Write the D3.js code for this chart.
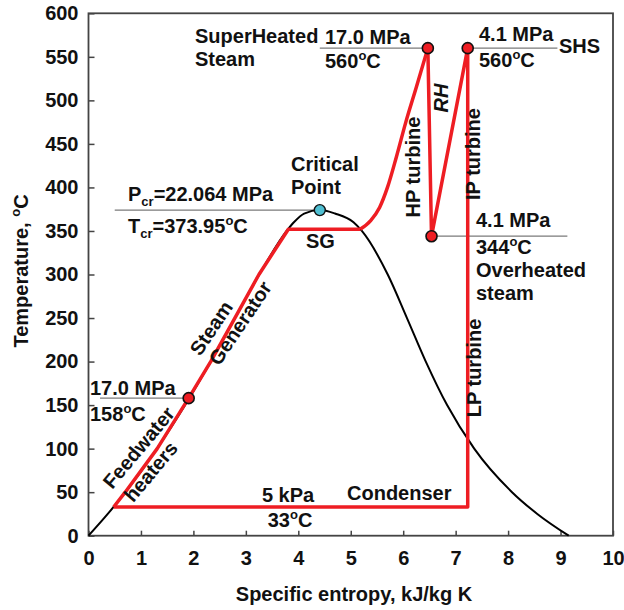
<!DOCTYPE html>
<html>
<head>
<meta charset="utf-8">
<script src="https://cdn.jsdelivr.net/npm/d3@7"></script>
<style>
  body { margin: 0; background: #fff; }
  svg text { font-family: "Liberation Sans", Arial, sans-serif; font-weight: bold; fill: #111; }
</style>
</head>
<body>
<svg id="chart" width="624" height="610"></svg>
<script>
"use strict";

// saturation dome (liquid line up to the critical point, then vapour line)
var domeS = [0, 0.367, 0.704, 1.307, 1.842, 2.331, 2.793, 3.255, 3.778, 3.916, 4.111, 4.41, 4.699, 5.053, 5.212, 5.705, 6.072, 6.431, 6.837, 7.354, 8.075, 8.557, 9.155];
var domeT = [0, 25, 50, 100, 150, 200, 250, 300, 350, 360, 370, 373.95, 370, 360, 350, 300, 250, 200, 150, 100, 50, 25, 0];

// cycle: feedwater heaters + steam generator
var heatS = [0.48, 0.70, 1.31, 1.91, 2.33, 2.79, 3.25, 3.81, 5.18];
var heatT = [33, 50, 100, 158, 200, 250, 300, 352, 352];
// superheating to 560 C
var superS = [5.18, 5.38, 5.55, 5.70, 5.87, 6.05, 6.25, 6.47];
var superT = [352, 362, 377, 400, 435, 475, 515, 560];
// HP turbine, reheat, IP/LP turbine, condenser
var turbS = [6.47, 6.54, 7.23, 7.23, 0.48];
var turbT = [560, 344, 560, 33, 33];

// state points
var stateS = [6.47, 7.23, 6.54, 1.91];
var stateT = [560, 560, 344, 158];
var critS = 4.41, critT = 373.95;

// thin reference lines: from s, to s, at T
var refFrom = [4.41, 7.23, 0.50, 6.54, 0.22];
var refTo = [6.47, 8.94, 4.41, 9.13, 1.91];
var refT = [560, 560, 373.95, 344, 158];

var xTicks = [0, 1, 2, 3, 4, 5, 6, 7, 8, 9, 10];
var yTicks = [0, 50, 100, 150, 200, 250, 300, 350, 400, 450, 500, 550, 600];

var svg = d3.select("#chart");
var plotL = 88.5, plotR = 613, plotT = 13.3, plotB = 535.7;

var x = d3.scaleLinear().domain([0, 10]).range([plotL, plotR]);
var y = d3.scaleLinear().domain([0, 600]).range([plotB, plotT]);

var red = "#ee1d23";

// axes (inward ticks)
var gx = svg.append("g").attr("transform", "translate(0," + plotB + ")")
  .call(d3.axisBottom(x).tickValues(xTicks).tickSize(-5).tickPadding(15).tickFormat(d3.format("d")));
var gy = svg.append("g").attr("transform", "translate(" + plotL + ",0)")
  .call(d3.axisLeft(y).tickValues(yTicks).tickSize(-6).tickPadding(10).tickFormat(d3.format("d")));
[gx, gy].forEach(function (g) {
  g.select(".domain").remove();
  g.selectAll(".tick line").attr("stroke", "#444").attr("stroke-width", 1.5);
  g.selectAll(".tick text").attr("font-size", 20).attr("fill", "#111")
    .attr("font-family", "Liberation Sans, Arial, sans-serif").attr("font-weight", "bold");
});

svg.append("rect")
  .attr("x", plotL).attr("y", plotT)
  .attr("width", plotR - plotL).attr("height", plotB - plotT)
  .attr("fill", "none").attr("stroke", "#444").attr("stroke-width", 1.8);

// reference lines
refT.forEach(function (t, i) {
  svg.append("line")
    .attr("x1", x(refFrom[i])).attr("x2", x(refTo[i]))
    .attr("y1", y(t)).attr("y2", y(t))
    .attr("stroke", "#7a7a7a").attr("stroke-width", 1.3);
});

// dome
var line = d3.line().x(function (d) { return x(d[0]); }).y(function (d) { return y(d[1]); });
svg.append("path")
  .attr("d", line.curve(d3.curveMonotoneX)(d3.zip(domeS, domeT)))
  .attr("fill", "none").attr("stroke", "#000").attr("stroke-width", 2);

// cycle
[[heatS, heatT, d3.curveLinear], [superS, superT, d3.curveMonotoneX], [turbS, turbT, d3.curveLinear]]
  .forEach(function (seg) {
    svg.append("path")
      .attr("d", line.curve(seg[2])(d3.zip(seg[0], seg[1])))
      .attr("fill", "none").attr("stroke", red).attr("stroke-width", 3.5)
      .attr("stroke-linejoin", "round");
  });

// markers
stateS.forEach(function (s, i) {
  svg.append("circle").attr("cx", x(s)).attr("cy", y(stateT[i])).attr("r", 5.5)
    .attr("fill", red).attr("stroke", "#111").attr("stroke-width", 1.6);
});
svg.append("circle").attr("cx", x(critS)).attr("cy", y(critT)).attr("r", 5.5)
  .attr("fill", "#4fbfd2").attr("stroke", "#111").attr("stroke-width", 1.4);

// text with ^sup^ and _sub_ parts
function rich(sel, str) {
  var parts = str.split(/(\^[^\^]*\^|_[^_]*_)/).filter(function (p) { return p; });
  var shift = 0;
  parts.forEach(function (p) {
    var ts = sel.append("tspan");
    if (p[0] === "^" || p[0] === "_") {
      var off = p[0] === "^" ? -8 : 5;
      ts.attr("font-size", 13).attr("dy", off - shift).text(p.slice(1, -1));
      shift = off;
    } else {
      ts.attr("dy", -shift).text(p);
      shift = 0;
    }
  });
}

var labels = [
  { t: "SuperHeated", x: 195, y: 43 },
  { t: "Steam", x: 195, y: 66 },
  { t: "17.0 MPa", x: 325, y: 44 },
  { t: "560^o^C", x: 325, y: 68 },
  { t: "4.1 MPa", x: 479, y: 41 },
  { t: "560^o^C", x: 479, y: 67 },
  { t: "SHS", x: 559, y: 53 },
  { t: "Critical", x: 291, y: 171 },
  { t: "Point", x: 291, y: 194 },
  { t: "P_cr_=22.064 MPa", x: 128, y: 201 },
  { t: "T_cr_=373.95^o^C", x: 128, y: 233 },
  { t: "SG", x: 306, y: 248 },
  { t: "4.1 MPa", x: 476, y: 227 },
  { t: "344^o^C", x: 476, y: 254 },
  { t: "Overheated", x: 476, y: 277 },
  { t: "steam", x: 476, y: 300 },
  { t: "17.0 MPa", x: 90, y: 395 },
  { t: "158^o^C", x: 90, y: 421 },
  { t: "5 kPa", x: 288, y: 502, a: "middle" },
  { t: "33^o^C", x: 290, y: 527, a: "middle" },
  { t: "Condenser", x: 347, y: 500 },
  { t: "HP turbine", x: 420, y: 167, a: "middle", r: -90, c: true },
  { t: "IP turbine", x: 480, y: 154, a: "middle", r: -90, c: true },
  { t: "LP turbine", x: 481, y: 368, a: "middle", r: -90, c: true },
  { t: "RH", x: 448, y: 98, a: "middle", r: -90, c: true, it: true },
  { t: "Steam", x: 217, y: 332, a: "middle", r: -56, c: true },
  { t: "Generator", x: 246, y: 327, a: "middle", r: -56, c: true },
  { t: "Feedwater", x: 144, y: 452, a: "middle", r: -50, c: true },
  { t: "heaters", x: 156, y: 476, a: "middle", r: -50, c: true }
];

labels.forEach(function (l) {
  var g = svg.append("g").attr("transform", "translate(" + l.x + "," + l.y + ")" + (l.r ? " rotate(" + l.r + ")" : ""));
  var txt = g.append("text").attr("font-size", 20).attr("text-anchor", l.a || "start")
    .attr("dy", l.c ? "0.35em" : null);
  if (l.it) txt.attr("font-style", "italic");
  rich(txt, l.t);
});

// axis titles
svg.append("text").attr("x", 354).attr("y", 601).attr("text-anchor", "middle")
  .attr("font-size", 20).text("Specific entropy, kJ/kg K");
var yt = svg.append("text").attr("transform", "translate(28,271) rotate(-90)")
  .attr("font-size", 20).attr("text-anchor", "middle");
rich(yt, "Temperature, ^o^C");
</script>
</body>
</html>
